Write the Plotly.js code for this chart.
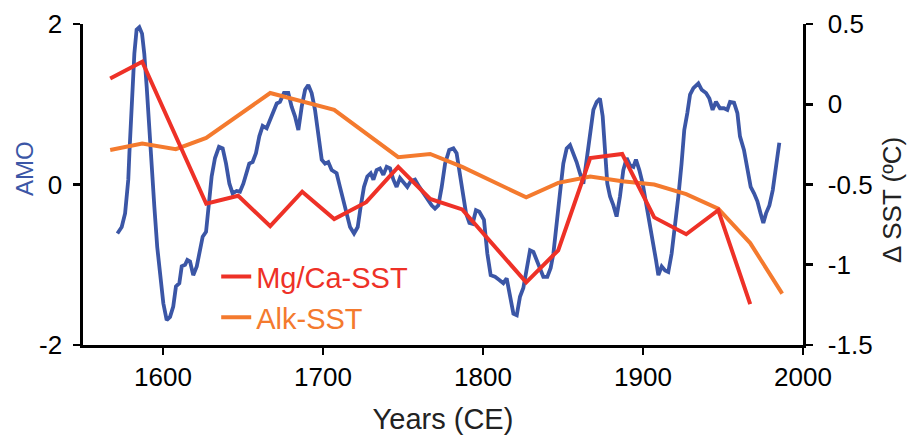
<!DOCTYPE html>
<html>
<head>
<meta charset="utf-8">
<script src="https://cdn.plot.ly/plotly-3.0.1.min.js"></script>
<style>html,body{margin:0;padding:0;background:#fff;}#chart{width:907px;height:435px;}</style>
</head>
<body>
<div id="chart"></div>
<script>
// AMO index (left axis)
var amoYears = [1571.5,1574.2,1576.3,1578.3,1579,1580.4,1582.1,1583.5,1585.2,1586.9,1588.3,1589.8,1591.4,1592.9,1594.6,1596.4,1598.5,1600.2,1602.3,1604.4,1606.4,1608.1,1610.2,1611.7,1613.8,1615.2,1616.9,1618.9,1621.1,1623.1,1624.8,1626.9,1628.3,1630.4,1632.5,1635,1637.3,1639.4,1641.5,1643.5,1646,1648.1,1650.2,1652.3,1653.9,1656,1658.1,1660.2,1662.3,1664.8,1666.9,1668.9,1671.1,1673.1,1675.6,1678.3,1680.4,1682.5,1684.6,1686.7,1688.8,1690.8,1692.9,1695,1697.1,1699.2,1701.3,1703.3,1705.4,1708.5,1710.6,1712.7,1714.8,1716.9,1719.4,1721.7,1723.5,1725.6,1727.7,1729.8,1731.5,1733.5,1735.6,1737.7,1739.8,1741.9,1744,1746,1748.1,1750.6,1752.7,1754.8,1757.5,1760.2,1762.7,1765.2,1767.9,1770,1772.1,1774.2,1776.3,1778.9,1781.5,1783.5,1785.6,1787.3,1789.4,1791.5,1793.5,1795.6,1797.7,1800.6,1802.7,1804.8,1807.5,1810.2,1812.7,1814.8,1816.9,1819,1821.1,1823.1,1825.2,1827.3,1829.4,1831.5,1833.5,1835.6,1837.7,1840.2,1842.3,1844,1846,1848.1,1850.2,1852.3,1854.4,1856.5,1858.5,1860.6,1862.7,1864.8,1866.9,1869,1871.1,1873.1,1874.8,1876.3,1877.7,1879.4,1881.5,1883.5,1885.6,1887.7,1889.8,1891.9,1894,1895.6,1897.7,1899.8,1901.9,1904,1906.1,1908.1,1909.6,1911.7,1913.8,1915.8,1917.9,1920,1922.1,1924.1,1925.8,1927.7,1929.4,1931.5,1934.6,1936.7,1939.4,1941.5,1943.5,1945.6,1948.1,1950.6,1952.7,1954.4,1956.9,1959,1960.6,1963.1,1965.2,1967.3,1969.4,1971.5,1973.5,1975.2,1976.9,1979,1981.1,1983.1,1985.2];
var amoValues = [-0.61,-0.53,-0.36,0.06,0.39,1.01,1.63,1.93,1.96,1.88,1.63,1.22,0.68,0.18,-0.28,-0.78,-1.19,-1.48,-1.69,-1.65,-1.52,-1.27,-1.23,-1.02,-1.00,-0.94,-0.96,-1.13,-1.02,-0.82,-0.65,-0.59,-0.28,0.10,0.33,0.47,0.45,0.26,0.01,-0.11,-0.08,-0.09,0.01,0.14,0.26,0.28,0.39,0.60,0.73,0.70,0.80,0.88,1.01,1.03,1.14,1.14,0.97,0.85,0.68,0.97,1.18,1.24,1.14,0.93,0.60,0.31,0.26,0.28,0.18,0.14,-0.03,-0.19,-0.36,-0.53,-0.61,-0.53,-0.28,-0.03,0.10,0.14,0.06,0.18,0.20,0.12,0.22,0.20,0.06,-0.03,0.08,0.01,-0.03,0.04,0.06,-0.03,-0.11,-0.19,-0.26,-0.30,-0.26,-0.03,0.26,0.43,0.45,0.39,0.10,-0.15,-0.36,-0.48,-0.49,-0.32,-0.34,-0.44,-0.86,-1.13,-1.15,-1.19,-1.23,-1.17,-1.40,-1.61,-1.63,-1.40,-1.29,-1.07,-0.82,-0.84,-0.94,-1.04,-1.15,-1.15,-1.04,-0.86,-0.44,-0.11,0.26,0.45,0.49,0.39,0.28,0.14,0.01,0.31,0.64,0.93,1.03,1.07,0.85,0.39,0.01,-0.15,-0.26,-0.40,-0.15,0.18,0.33,0.24,0.22,0.31,0.18,0.01,-0.23,-0.44,-0.65,-0.94,-1.13,-1.02,-1.07,-1.09,-0.86,-0.53,-0.15,0.26,0.68,0.89,1.12,1.20,1.26,1.18,1.14,1.07,0.93,1.03,0.95,0.95,0.93,1.03,1.02,0.89,0.60,0.43,0.18,-0.03,-0.11,-0.21,-0.36,-0.48,-0.36,-0.26,-0.07,0.22,0.52];

// Mg/Ca-SST anomaly (right axis, degC)
var mgcaYears = [1567,1587,1627,1647,1667,1687,1707,1727,1747,1767,1787,1827,1847,1867,1887,1907,1927,1947,1967];
var mgcaValues = [0.16,0.265,-0.62,-0.57,-0.76,-0.545,-0.715,-0.61,-0.39,-0.59,-0.655,-1.11,-0.91,-0.335,-0.31,-0.705,-0.81,-0.66,-1.245];

// Alkenone-SST anomaly (right axis, degC)
var alkYears = [1567,1587,1608,1627,1667,1707,1747,1767,1787,1827,1847,1867,1887,1907,1927,1947,1967,1987];
var alkValues = [-0.285,-0.245,-0.28,-0.21,0.07,-0.035,-0.33,-0.31,-0.39,-0.58,-0.49,-0.45,-0.48,-0.5,-0.56,-0.65,-0.865,-1.18];

var xTicks = [1600,1700,1800,1900,2000];
var leftTicks = [-2,0,2];
var leftTickText = ['-2','0','2'];
var rightTicks = [-1.5,-1,-0.5,0,0.5];
var rightTickText = ['-1.5','-1','-0.5','0','0.5'];

var BLUE = '#3b56a6', RED = '#ee3127', ORANGE = '#f47a2e';
var FONT = 'Liberation Sans, Arial, Helvetica, sans-serif';

var traces = [
  {x: alkYears, y: alkValues, yaxis: 'y2', type: 'scatter', mode: 'lines',
   name: '<span style="color:' + ORANGE + '">Alk-SST</span>',
   line: {color: ORANGE, width: 4}},
  {x: amoYears, y: amoValues, yaxis: 'y', type: 'scatter', mode: 'lines',
   name: 'AMO', showlegend: false,
   line: {color: BLUE, width: 3.8}},
  {x: mgcaYears, y: mgcaValues, yaxis: 'y2', type: 'scatter', mode: 'lines',
   name: '<span style="color:' + RED + '">Mg/Ca-SST</span>',
   line: {color: RED, width: 4}}
];

var axisCommon = {
  showgrid: false, zeroline: false, showline: true, linecolor: '#000', linewidth: 2.6,
  ticks: 'outside', ticklen: 7, tickwidth: 2.6, tickcolor: '#000',
  tickfont: {family: FONT, size: 26, color: '#000'}
};

var layout = {
  width: 907, height: 435,
  margin: {l: 83, r: 104, t: 24, b: 90, pad: 0},
  paper_bgcolor: '#fff', plot_bgcolor: '#fff',
  font: {family: FONT, color: '#000'},
  showlegend: true,
  legend: {x: 0.185, y: 0.292, xanchor: 'left', yanchor: 'top', traceorder: 'reversed',
           bgcolor: 'rgba(0,0,0,0)', font: {family: FONT, size: 29}, itemwidth: 30, tracegroupgap: 0},
  xaxis: Object.assign({}, axisCommon, {
    range: [1550, 2000], tickmode: 'array', tickvals: xTicks, ticktext: xTicks.map(String),
    title: {text: 'Years (CE)', font: {family: FONT, size: 29, color: '#222'}, standoff: 20}
  }),
  yaxis: Object.assign({}, axisCommon, {
    range: [-2, 2], tickmode: 'array', tickvals: leftTicks, ticktext: leftTickText,
    ticklabelstandoff: 6
  }),
  yaxis2: Object.assign({}, axisCommon, {
    range: [-1.5, 0.5], overlaying: 'y', side: 'right', anchor: 'x',
    tickmode: 'array', tickvals: rightTicks, ticktext: rightTickText,
    ticklabelstandoff: 10
  }),
  annotations: [
    {text: 'AMO', xref: 'paper', yref: 'paper', x: -0.082, y: 0.551, textangle: -90,
     showarrow: false, xanchor: 'center', yanchor: 'middle',
     font: {family: FONT, size: 24, color: BLUE}},
    {text: 'Δ SST (ºC)', xref: 'paper', yref: 'paper', x: 1.1236, y: 0.452, textangle: -90,
     showarrow: false, xanchor: 'center', yanchor: 'middle',
     font: {family: FONT, size: 26, color: '#222'}}
  ]
};

Plotly.newPlot('chart', traces, layout, {displayModeBar: false, staticPlot: true});
</script>
</body>
</html>
